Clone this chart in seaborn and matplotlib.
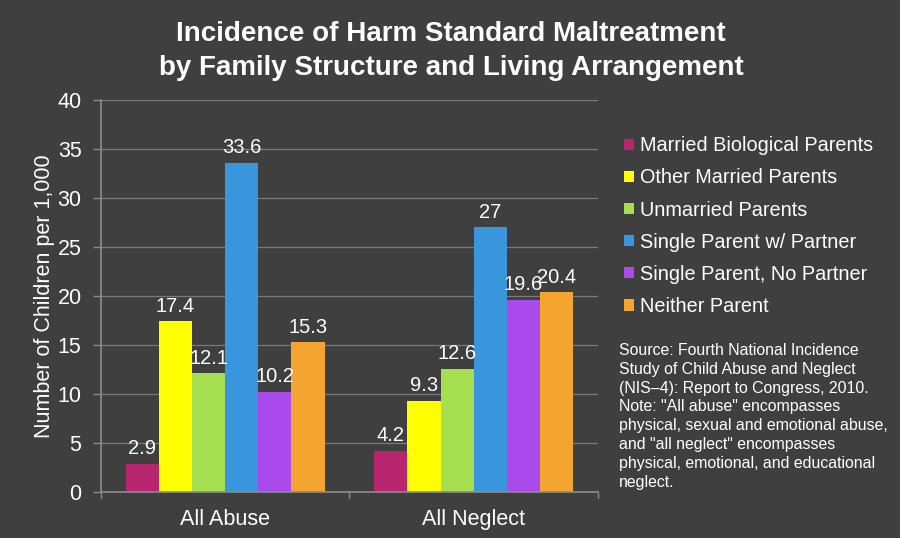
import matplotlib
matplotlib.use("Agg")
import matplotlib.pyplot as plt
import seaborn as sns
import pandas as pd
from matplotlib.patches import Patch

categories = ["All Abuse", "All Neglect"]
series = ["Married Biological Parents", "Other Married Parents", "Unmarried Parents",
          "Single Parent w/ Partner", "Single Parent, No Partner", "Neither Parent"]
all_abuse = [2.9, 17.4, 12.1, 33.6, 10.2, 15.3]
all_neglect = [4.2, 9.3, 12.6, 27, 19.6, 20.4]
colors = ["#B8256F", "#FFFF00", "#A5DE4E", "#3A96DC", "#AA4AEC", "#F3A530"]
yticks = [0, 5, 10, 15, 20, 25, 30, 35, 40]

rows = []
for s, a, n in zip(series, all_abuse, all_neglect):
    rows.append({"Category": categories[0], "Structure": s, "Value": a})
    rows.append({"Category": categories[1], "Structure": s, "Value": n})
df = pd.DataFrame(rows)

BG = "#3F3F3F"
sns.set_theme(style="dark")
plt.rcParams["font.family"] = ["Liberation Sans", "DejaVu Sans"]

fig = plt.figure(figsize=(9, 5.38), dpi=100, facecolor=BG)
ax = fig.add_axes([0.1122, 0.0855, 0.5522, 0.7286])
ax.set_facecolor(BG)

sns.barplot(data=df, x="Category", y="Value", hue="Structure", hue_order=series,
            order=categories, palette=colors, width=0.8, saturation=1,
            edgecolor="none", linewidth=0, ax=ax, legend=False)

for cont in ax.containers:
    ax.bar_label(cont, labels=[f"{b.get_height():g}" for b in cont], padding=4,
                 color="white", fontsize=14.5)

ax.set_ylim(0, 40)
ax.set_yticks(yticks)
ax.set_yticklabels([str(t) for t in yticks], color="white", fontsize=15.5)
ax.set_xlim(-0.5, 1.5)
ax.set_xticks([0, 1])
ax.set_xticklabels(categories, color="white", fontsize=15.5)
ax.tick_params(axis="x", length=0, pad=12)
ax.tick_params(axis="y", length=6, color="#8A8A8A", width=1, left=True, pad=8)
ax.grid(axis="y", color="#7A7A7A", linewidth=0.9)
ax.set_axisbelow(True)
for x in [-0.5, 0.5, 1.5]:
    ax.plot([x, x], [0, -0.6], color="#8A8A8A", lw=1, clip_on=False)
for sp in ["top", "right"]:
    ax.spines[sp].set_visible(False)
ax.spines["left"].set_color("#8A8A8A")
ax.spines["bottom"].set_color("#8A8A8A")
ax.set_xlabel("")
ax.set_ylabel("Number of Children per 1,000", color="white", fontsize=15.5, labelpad=2)

fig.text(0.501, 0.905, "Incidence of Harm Standard Maltreatment\nby Family Structure and Living Arrangement",
         ha="center", va="center", color="white", fontsize=20, fontweight="bold",
         linespacing=1.4)

handles = [Patch(facecolor=c, edgecolor="none") for c in colors]
leg = fig.legend(handles, series, loc="upper left", bbox_to_anchor=(0.682, 0.765),
                 frameon=False, fontsize=14.3, labelcolor="white", handlelength=0.5,
                 handleheight=0.5, handletextpad=0.3, labelspacing=0.66, borderpad=0)

note = ("Source: Fourth National Incidence\nStudy of Child Abuse and Neglect\n"
        "(NIS\u20134): Report to Congress, 2010.\nNote: \"All abuse\" encompasses\n"
        "physical, sexual and emotional abuse,\nand \"all neglect\" encompasses\n"
        "physical, emotional, and educational\nneglect.")
fig.text(0.688, 0.226, note, ha="left", va="center", color="white", fontsize=11.4,
         linespacing=1.32)

fig.savefig("out.png", dpi=100, facecolor=BG)
